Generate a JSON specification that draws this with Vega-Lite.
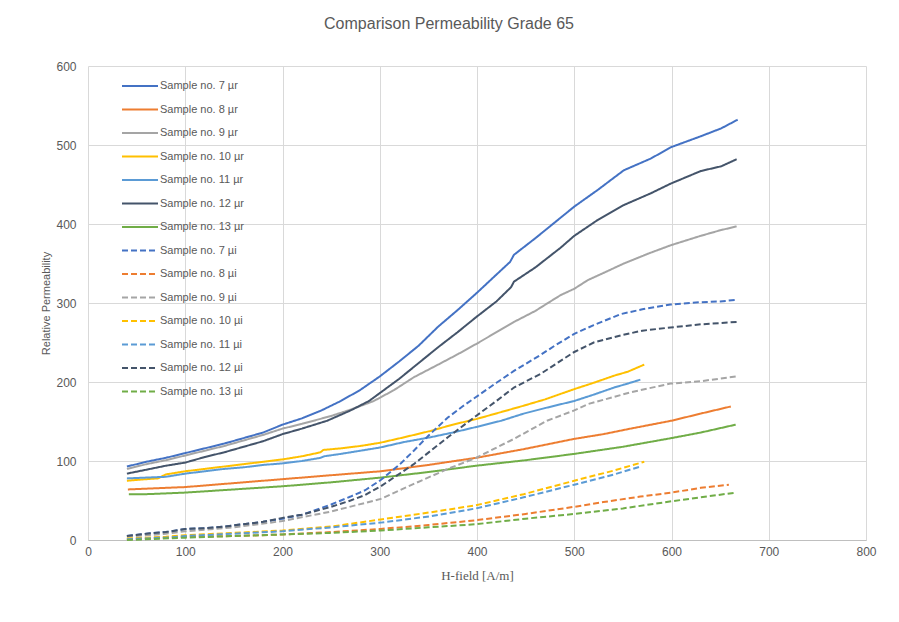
{
  "$schema": "https://vega.github.io/schema/vega-lite/v6.json",
  "width": 778,
  "height": 474,
  "autosize": {"type": "none"},
  "padding": {"left": 88, "top": 66, "right": 33, "bottom": 82},
  "background": "white",
  "title": {
    "text": "Comparison Permeability Grade 65",
    "font": "Liberation Sans",
    "fontSize": 16,
    "fontWeight": "normal",
    "color": "#595959",
    "anchor": "middle",
    "dx": -28,
    "offset": 28
  },
  "data": {
    "values": [
      {"series": "Sample no. 7 µr", "H": 40, "mu": 93}, {"series": "Sample no. 7 µr", "H": 60, "mu": 99}, {"series": "Sample no. 7 µr", "H": 80, "mu": 104}, {"series": "Sample no. 7 µr", "H": 100, "mu": 110}, {"series": "Sample no. 7 µr", "H": 120, "mu": 116}, {"series": "Sample no. 7 µr", "H": 140, "mu": 122}, {"series": "Sample no. 7 µr", "H": 160, "mu": 129}, {"series": "Sample no. 7 µr", "H": 180, "mu": 136}, {"series": "Sample no. 7 µr", "H": 200, "mu": 146}, {"series": "Sample no. 7 µr", "H": 220, "mu": 154}, {"series": "Sample no. 7 µr", "H": 240, "mu": 164}, {"series": "Sample no. 7 µr", "H": 260, "mu": 176}, {"series": "Sample no. 7 µr", "H": 280, "mu": 190}, {"series": "Sample no. 7 µr", "H": 300, "mu": 207}, {"series": "Sample no. 7 µr", "H": 320, "mu": 226}, {"series": "Sample no. 7 µr", "H": 340, "mu": 246}, {"series": "Sample no. 7 µr", "H": 360, "mu": 270}, {"series": "Sample no. 7 µr", "H": 380, "mu": 291}, {"series": "Sample no. 7 µr", "H": 400, "mu": 313}, {"series": "Sample no. 7 µr", "H": 420, "mu": 336}, {"series": "Sample no. 7 µr", "H": 434, "mu": 352}, {"series": "Sample no. 7 µr", "H": 438, "mu": 361}, {"series": "Sample no. 7 µr", "H": 460, "mu": 382}, {"series": "Sample no. 7 µr", "H": 480, "mu": 402}, {"series": "Sample no. 7 µr", "H": 500, "mu": 422}, {"series": "Sample no. 7 µr", "H": 524, "mu": 443}, {"series": "Sample no. 7 µr", "H": 551, "mu": 468}, {"series": "Sample no. 7 µr", "H": 579, "mu": 483}, {"series": "Sample no. 7 µr", "H": 599, "mu": 497}, {"series": "Sample no. 7 µr", "H": 630, "mu": 511}, {"series": "Sample no. 7 µr", "H": 651, "mu": 521}, {"series": "Sample no. 7 µr", "H": 668, "mu": 532},
      {"series": "Sample no. 8 µr", "H": 41, "mu": 64}, {"series": "Sample no. 8 µr", "H": 60, "mu": 65}, {"series": "Sample no. 8 µr", "H": 80, "mu": 66}, {"series": "Sample no. 8 µr", "H": 100, "mu": 67}, {"series": "Sample no. 8 µr", "H": 150, "mu": 72}, {"series": "Sample no. 8 µr", "H": 200, "mu": 77}, {"series": "Sample no. 8 µr", "H": 250, "mu": 82}, {"series": "Sample no. 8 µr", "H": 301, "mu": 87}, {"series": "Sample no. 8 µr", "H": 350, "mu": 95}, {"series": "Sample no. 8 µr", "H": 399, "mu": 104}, {"series": "Sample no. 8 µr", "H": 448, "mu": 115}, {"series": "Sample no. 8 µr", "H": 500, "mu": 128}, {"series": "Sample no. 8 µr", "H": 530, "mu": 134}, {"series": "Sample no. 8 µr", "H": 558, "mu": 141}, {"series": "Sample no. 8 µr", "H": 600, "mu": 151}, {"series": "Sample no. 8 µr", "H": 630, "mu": 160}, {"series": "Sample no. 8 µr", "H": 661, "mu": 169},
      {"series": "Sample no. 9 µr", "H": 40, "mu": 90}, {"series": "Sample no. 9 µr", "H": 60, "mu": 96}, {"series": "Sample no. 9 µr", "H": 80, "mu": 101}, {"series": "Sample no. 9 µr", "H": 100, "mu": 107}, {"series": "Sample no. 9 µr", "H": 120, "mu": 113}, {"series": "Sample no. 9 µr", "H": 140, "mu": 119}, {"series": "Sample no. 9 µr", "H": 160, "mu": 126}, {"series": "Sample no. 9 µr", "H": 180, "mu": 133}, {"series": "Sample no. 9 µr", "H": 200, "mu": 141}, {"series": "Sample no. 9 µr", "H": 220, "mu": 147}, {"series": "Sample no. 9 µr", "H": 250, "mu": 157}, {"series": "Sample no. 9 µr", "H": 270, "mu": 165}, {"series": "Sample no. 9 µr", "H": 294, "mu": 176}, {"series": "Sample no. 9 µr", "H": 315, "mu": 190}, {"series": "Sample no. 9 µr", "H": 335, "mu": 206}, {"series": "Sample no. 9 µr", "H": 360, "mu": 222}, {"series": "Sample no. 9 µr", "H": 380, "mu": 235}, {"series": "Sample no. 9 µr", "H": 399, "mu": 248}, {"series": "Sample no. 9 µr", "H": 420, "mu": 263}, {"series": "Sample no. 9 µr", "H": 438, "mu": 276}, {"series": "Sample no. 9 µr", "H": 460, "mu": 290}, {"series": "Sample no. 9 µr", "H": 486, "mu": 310}, {"series": "Sample no. 9 µr", "H": 500, "mu": 318}, {"series": "Sample no. 9 µr", "H": 514, "mu": 329}, {"series": "Sample no. 9 µr", "H": 530, "mu": 338}, {"series": "Sample no. 9 µr", "H": 551, "mu": 350}, {"series": "Sample no. 9 µr", "H": 575, "mu": 362}, {"series": "Sample no. 9 µr", "H": 599, "mu": 373}, {"series": "Sample no. 9 µr", "H": 630, "mu": 385}, {"series": "Sample no. 9 µr", "H": 650, "mu": 392}, {"series": "Sample no. 9 µr", "H": 667, "mu": 397},
      {"series": "Sample no. 10 µr", "H": 40, "mu": 75}, {"series": "Sample no. 10 µr", "H": 60, "mu": 77}, {"series": "Sample no. 10 µr", "H": 72, "mu": 78}, {"series": "Sample no. 10 µr", "H": 80, "mu": 83}, {"series": "Sample no. 10 µr", "H": 100, "mu": 87}, {"series": "Sample no. 10 µr", "H": 120, "mu": 90}, {"series": "Sample no. 10 µr", "H": 140, "mu": 93}, {"series": "Sample no. 10 µr", "H": 160, "mu": 96}, {"series": "Sample no. 10 µr", "H": 180, "mu": 99}, {"series": "Sample no. 10 µr", "H": 200, "mu": 102}, {"series": "Sample no. 10 µr", "H": 220, "mu": 106}, {"series": "Sample no. 10 µr", "H": 239, "mu": 111}, {"series": "Sample no. 10 µr", "H": 242, "mu": 114}, {"series": "Sample no. 10 µr", "H": 260, "mu": 116}, {"series": "Sample no. 10 µr", "H": 280, "mu": 119}, {"series": "Sample no. 10 µr", "H": 300, "mu": 123}, {"series": "Sample no. 10 µr", "H": 325, "mu": 130}, {"series": "Sample no. 10 µr", "H": 352, "mu": 138}, {"series": "Sample no. 10 µr", "H": 375, "mu": 146}, {"series": "Sample no. 10 µr", "H": 399, "mu": 153}, {"series": "Sample no. 10 µr", "H": 425, "mu": 162}, {"series": "Sample no. 10 µr", "H": 448, "mu": 170}, {"series": "Sample no. 10 µr", "H": 470, "mu": 178}, {"series": "Sample no. 10 µr", "H": 500, "mu": 191}, {"series": "Sample no. 10 µr", "H": 520, "mu": 199}, {"series": "Sample no. 10 µr", "H": 541, "mu": 208}, {"series": "Sample no. 10 µr", "H": 555, "mu": 213}, {"series": "Sample no. 10 µr", "H": 572, "mu": 222},
      {"series": "Sample no. 11 µr", "H": 40, "mu": 78}, {"series": "Sample no. 11 µr", "H": 60, "mu": 79}, {"series": "Sample no. 11 µr", "H": 80, "mu": 80}, {"series": "Sample no. 11 µr", "H": 100, "mu": 84}, {"series": "Sample no. 11 µr", "H": 120, "mu": 87}, {"series": "Sample no. 11 µr", "H": 140, "mu": 90}, {"series": "Sample no. 11 µr", "H": 160, "mu": 92}, {"series": "Sample no. 11 µr", "H": 180, "mu": 95}, {"series": "Sample no. 11 µr", "H": 200, "mu": 97}, {"series": "Sample no. 11 µr", "H": 220, "mu": 100}, {"series": "Sample no. 11 µr", "H": 239, "mu": 104}, {"series": "Sample no. 11 µr", "H": 243, "mu": 106}, {"series": "Sample no. 11 µr", "H": 260, "mu": 109}, {"series": "Sample no. 11 µr", "H": 280, "mu": 113}, {"series": "Sample no. 11 µr", "H": 300, "mu": 117}, {"series": "Sample no. 11 µr", "H": 325, "mu": 124}, {"series": "Sample no. 11 µr", "H": 352, "mu": 130}, {"series": "Sample no. 11 µr", "H": 375, "mu": 136}, {"series": "Sample no. 11 µr", "H": 399, "mu": 143}, {"series": "Sample no. 11 µr", "H": 425, "mu": 151}, {"series": "Sample no. 11 µr", "H": 448, "mu": 160}, {"series": "Sample no. 11 µr", "H": 470, "mu": 167}, {"series": "Sample no. 11 µr", "H": 500, "mu": 176}, {"series": "Sample no. 11 µr", "H": 520, "mu": 184}, {"series": "Sample no. 11 µr", "H": 541, "mu": 193}, {"series": "Sample no. 11 µr", "H": 555, "mu": 198}, {"series": "Sample no. 11 µr", "H": 568, "mu": 203},
      {"series": "Sample no. 12 µr", "H": 40, "mu": 84}, {"series": "Sample no. 12 µr", "H": 60, "mu": 89}, {"series": "Sample no. 12 µr", "H": 80, "mu": 94}, {"series": "Sample no. 12 µr", "H": 100, "mu": 98}, {"series": "Sample no. 12 µr", "H": 120, "mu": 105}, {"series": "Sample no. 12 µr", "H": 140, "mu": 111}, {"series": "Sample no. 12 µr", "H": 160, "mu": 118}, {"series": "Sample no. 12 µr", "H": 180, "mu": 125}, {"series": "Sample no. 12 µr", "H": 200, "mu": 134}, {"series": "Sample no. 12 µr", "H": 220, "mu": 141}, {"series": "Sample no. 12 µr", "H": 246, "mu": 151}, {"series": "Sample no. 12 µr", "H": 270, "mu": 164}, {"series": "Sample no. 12 µr", "H": 289, "mu": 176}, {"series": "Sample no. 12 µr", "H": 299, "mu": 185}, {"series": "Sample no. 12 µr", "H": 320, "mu": 204}, {"series": "Sample no. 12 µr", "H": 335, "mu": 219}, {"series": "Sample no. 12 µr", "H": 360, "mu": 244}, {"series": "Sample no. 12 µr", "H": 380, "mu": 263}, {"series": "Sample no. 12 µr", "H": 399, "mu": 282}, {"series": "Sample no. 12 µr", "H": 420, "mu": 302}, {"series": "Sample no. 12 µr", "H": 435, "mu": 320}, {"series": "Sample no. 12 µr", "H": 438, "mu": 327}, {"series": "Sample no. 12 µr", "H": 460, "mu": 345}, {"series": "Sample no. 12 µr", "H": 486, "mu": 370}, {"series": "Sample no. 12 µr", "H": 500, "mu": 385}, {"series": "Sample no. 12 µr", "H": 524, "mu": 405}, {"series": "Sample no. 12 µr", "H": 551, "mu": 424}, {"series": "Sample no. 12 µr", "H": 579, "mu": 439}, {"series": "Sample no. 12 µr", "H": 599, "mu": 451}, {"series": "Sample no. 12 µr", "H": 630, "mu": 467}, {"series": "Sample no. 12 µr", "H": 651, "mu": 473}, {"series": "Sample no. 12 µr", "H": 667, "mu": 482},
      {"series": "Sample no. 13 µr", "H": 42, "mu": 58}, {"series": "Sample no. 13 µr", "H": 60, "mu": 58}, {"series": "Sample no. 13 µr", "H": 100, "mu": 60}, {"series": "Sample no. 13 µr", "H": 150, "mu": 64}, {"series": "Sample no. 13 µr", "H": 200, "mu": 68}, {"series": "Sample no. 13 µr", "H": 250, "mu": 73}, {"series": "Sample no. 13 µr", "H": 301, "mu": 79}, {"series": "Sample no. 13 µr", "H": 350, "mu": 86}, {"series": "Sample no. 13 µr", "H": 399, "mu": 94}, {"series": "Sample no. 13 µr", "H": 450, "mu": 101}, {"series": "Sample no. 13 µr", "H": 500, "mu": 109}, {"series": "Sample no. 13 µr", "H": 550, "mu": 118}, {"series": "Sample no. 13 µr", "H": 600, "mu": 129}, {"series": "Sample no. 13 µr", "H": 630, "mu": 136}, {"series": "Sample no. 13 µr", "H": 666, "mu": 146},
      {"series": "Sample no. 7 µi", "H": 40, "mu": 5}, {"series": "Sample no. 7 µi", "H": 60, "mu": 8}, {"series": "Sample no. 7 µi", "H": 80, "mu": 10}, {"series": "Sample no. 7 µi", "H": 100, "mu": 14}, {"series": "Sample no. 7 µi", "H": 120, "mu": 15}, {"series": "Sample no. 7 µi", "H": 140, "mu": 17}, {"series": "Sample no. 7 µi", "H": 160, "mu": 20}, {"series": "Sample no. 7 µi", "H": 180, "mu": 23}, {"series": "Sample no. 7 µi", "H": 200, "mu": 27}, {"series": "Sample no. 7 µi", "H": 220, "mu": 32}, {"series": "Sample no. 7 µi", "H": 250, "mu": 45}, {"series": "Sample no. 7 µi", "H": 270, "mu": 55}, {"series": "Sample no. 7 µi", "H": 285, "mu": 63}, {"series": "Sample no. 7 µi", "H": 301, "mu": 76}, {"series": "Sample no. 7 µi", "H": 320, "mu": 95}, {"series": "Sample no. 7 µi", "H": 335, "mu": 113}, {"series": "Sample no. 7 µi", "H": 350, "mu": 132}, {"series": "Sample no. 7 µi", "H": 370, "mu": 155}, {"series": "Sample no. 7 µi", "H": 385, "mu": 169}, {"series": "Sample no. 7 µi", "H": 399, "mu": 181}, {"series": "Sample no. 7 µi", "H": 420, "mu": 199}, {"series": "Sample no. 7 µi", "H": 438, "mu": 214}, {"series": "Sample no. 7 µi", "H": 465, "mu": 234}, {"series": "Sample no. 7 µi", "H": 480, "mu": 246}, {"series": "Sample no. 7 µi", "H": 500, "mu": 261}, {"series": "Sample no. 7 µi", "H": 520, "mu": 272}, {"series": "Sample no. 7 µi", "H": 548, "mu": 286}, {"series": "Sample no. 7 µi", "H": 570, "mu": 292}, {"series": "Sample no. 7 µi", "H": 599, "mu": 298}, {"series": "Sample no. 7 µi", "H": 630, "mu": 301}, {"series": "Sample no. 7 µi", "H": 650, "mu": 302}, {"series": "Sample no. 7 µi", "H": 667, "mu": 304},
      {"series": "Sample no. 8 µi", "H": 40, "mu": 1}, {"series": "Sample no. 8 µi", "H": 100, "mu": 4}, {"series": "Sample no. 8 µi", "H": 150, "mu": 5}, {"series": "Sample no. 8 µi", "H": 200, "mu": 7}, {"series": "Sample no. 8 µi", "H": 250, "mu": 10}, {"series": "Sample no. 8 µi", "H": 301, "mu": 14}, {"series": "Sample no. 8 µi", "H": 350, "mu": 19}, {"series": "Sample no. 8 µi", "H": 399, "mu": 25}, {"series": "Sample no. 8 µi", "H": 450, "mu": 33}, {"series": "Sample no. 8 µi", "H": 500, "mu": 42}, {"series": "Sample no. 8 µi", "H": 530, "mu": 48}, {"series": "Sample no. 8 µi", "H": 568, "mu": 55}, {"series": "Sample no. 8 µi", "H": 600, "mu": 60}, {"series": "Sample no. 8 µi", "H": 630, "mu": 66}, {"series": "Sample no. 8 µi", "H": 659, "mu": 70},
      {"series": "Sample no. 9 µi", "H": 40, "mu": 4}, {"series": "Sample no. 9 µi", "H": 60, "mu": 6}, {"series": "Sample no. 9 µi", "H": 80, "mu": 8}, {"series": "Sample no. 9 µi", "H": 100, "mu": 11}, {"series": "Sample no. 9 µi", "H": 150, "mu": 16}, {"series": "Sample no. 9 µi", "H": 200, "mu": 24}, {"series": "Sample no. 9 µi", "H": 250, "mu": 36}, {"series": "Sample no. 9 µi", "H": 301, "mu": 52}, {"series": "Sample no. 9 µi", "H": 335, "mu": 71}, {"series": "Sample no. 9 µi", "H": 370, "mu": 90}, {"series": "Sample no. 9 µi", "H": 399, "mu": 104}, {"series": "Sample no. 9 µi", "H": 438, "mu": 128}, {"series": "Sample no. 9 µi", "H": 472, "mu": 151}, {"series": "Sample no. 9 µi", "H": 500, "mu": 164}, {"series": "Sample no. 9 µi", "H": 514, "mu": 172}, {"series": "Sample no. 9 µi", "H": 558, "mu": 187}, {"series": "Sample no. 9 µi", "H": 599, "mu": 198}, {"series": "Sample no. 9 µi", "H": 630, "mu": 201}, {"series": "Sample no. 9 µi", "H": 666, "mu": 207},
      {"series": "Sample no. 10 µi", "H": 40, "mu": 2}, {"series": "Sample no. 10 µi", "H": 60, "mu": 3}, {"series": "Sample no. 10 µi", "H": 80, "mu": 4}, {"series": "Sample no. 10 µi", "H": 100, "mu": 6}, {"series": "Sample no. 10 µi", "H": 150, "mu": 9}, {"series": "Sample no. 10 µi", "H": 200, "mu": 12}, {"series": "Sample no. 10 µi", "H": 250, "mu": 17}, {"series": "Sample no. 10 µi", "H": 301, "mu": 26}, {"series": "Sample no. 10 µi", "H": 352, "mu": 35}, {"series": "Sample no. 10 µi", "H": 399, "mu": 44}, {"series": "Sample no. 10 µi", "H": 448, "mu": 58}, {"series": "Sample no. 10 µi", "H": 500, "mu": 75}, {"series": "Sample no. 10 µi", "H": 541, "mu": 88}, {"series": "Sample no. 10 µi", "H": 572, "mu": 99},
      {"series": "Sample no. 11 µi", "H": 40, "mu": 1}, {"series": "Sample no. 11 µi", "H": 60, "mu": 2}, {"series": "Sample no. 11 µi", "H": 80, "mu": 3}, {"series": "Sample no. 11 µi", "H": 100, "mu": 5}, {"series": "Sample no. 11 µi", "H": 150, "mu": 8}, {"series": "Sample no. 11 µi", "H": 200, "mu": 11}, {"series": "Sample no. 11 µi", "H": 250, "mu": 16}, {"series": "Sample no. 11 µi", "H": 301, "mu": 22}, {"series": "Sample no. 11 µi", "H": 352, "mu": 30}, {"series": "Sample no. 11 µi", "H": 399, "mu": 40}, {"series": "Sample no. 11 µi", "H": 448, "mu": 54}, {"series": "Sample no. 11 µi", "H": 500, "mu": 70}, {"series": "Sample no. 11 µi", "H": 541, "mu": 83}, {"series": "Sample no. 11 µi", "H": 568, "mu": 93},
      {"series": "Sample no. 12 µi", "H": 40, "mu": 5}, {"series": "Sample no. 12 µi", "H": 60, "mu": 8}, {"series": "Sample no. 12 µi", "H": 80, "mu": 10}, {"series": "Sample no. 12 µi", "H": 100, "mu": 14}, {"series": "Sample no. 12 µi", "H": 120, "mu": 15}, {"series": "Sample no. 12 µi", "H": 140, "mu": 17}, {"series": "Sample no. 12 µi", "H": 160, "mu": 20}, {"series": "Sample no. 12 µi", "H": 180, "mu": 23}, {"series": "Sample no. 12 µi", "H": 200, "mu": 28}, {"series": "Sample no. 12 µi", "H": 220, "mu": 32}, {"series": "Sample no. 12 µi", "H": 250, "mu": 42}, {"series": "Sample no. 12 µi", "H": 270, "mu": 50}, {"series": "Sample no. 12 µi", "H": 285, "mu": 57}, {"series": "Sample no. 12 µi", "H": 301, "mu": 68}, {"series": "Sample no. 12 µi", "H": 335, "mu": 96}, {"series": "Sample no. 12 µi", "H": 370, "mu": 130}, {"series": "Sample no. 12 µi", "H": 399, "mu": 157}, {"series": "Sample no. 12 µi", "H": 420, "mu": 176}, {"series": "Sample no. 12 µi", "H": 438, "mu": 193}, {"series": "Sample no. 12 µi", "H": 465, "mu": 210}, {"series": "Sample no. 12 µi", "H": 500, "mu": 238}, {"series": "Sample no. 12 µi", "H": 520, "mu": 250}, {"series": "Sample no. 12 µi", "H": 548, "mu": 259}, {"series": "Sample no. 12 µi", "H": 570, "mu": 265}, {"series": "Sample no. 12 µi", "H": 599, "mu": 269}, {"series": "Sample no. 12 µi", "H": 630, "mu": 273}, {"series": "Sample no. 12 µi", "H": 667, "mu": 276},
      {"series": "Sample no. 13 µi", "H": 40, "mu": 0}, {"series": "Sample no. 13 µi", "H": 100, "mu": 3}, {"series": "Sample no. 13 µi", "H": 150, "mu": 5}, {"series": "Sample no. 13 µi", "H": 200, "mu": 7}, {"series": "Sample no. 13 µi", "H": 250, "mu": 9}, {"series": "Sample no. 13 µi", "H": 301, "mu": 12}, {"series": "Sample no. 13 µi", "H": 350, "mu": 16}, {"series": "Sample no. 13 µi", "H": 399, "mu": 20}, {"series": "Sample no. 13 µi", "H": 450, "mu": 27}, {"series": "Sample no. 13 µi", "H": 500, "mu": 33}, {"series": "Sample no. 13 µi", "H": 550, "mu": 40}, {"series": "Sample no. 13 µi", "H": 600, "mu": 49}, {"series": "Sample no. 13 µi", "H": 630, "mu": 54}, {"series": "Sample no. 13 µi", "H": 666, "mu": 60}
    ]
  },
  "mark": {"type": "line", "strokeWidth": 2},
  "encoding": {
    "x": {
      "field": "H",
      "type": "quantitative",
      "title": "H-field [A/m]",
      "scale": {"domain": [0, 800], "nice": false},
      "axis": {"values": [0, 100, 200, 300, 400, 500, 600, 700, 800], "labelFlush": false, "titleFont": "Liberation Serif", "titleFontSize": 13, "titleFontWeight": "normal", "titlePadding": 12, "labelPadding": 6, "domain": true, "domainColor": "#bfbfbf", "domainWidth": 1}
    },
    "y": {
      "field": "mu",
      "type": "quantitative",
      "title": "Relative Permeability",
      "scale": {"domain": [0, 600], "nice": false},
      "axis": {"values": [0, 100, 200, 300, 400, 500, 600], "labelFlush": false, "titleFont": "Liberation Sans", "titleFontSize": 11, "titleFontWeight": "normal", "titlePadding": 4, "labelPadding": 12, "domain": false}
    },
    "color": {
      "field": "series",
      "type": "nominal",
      "scale": {
        "domain": ["Sample no. 7 µr", "Sample no. 8 µr", "Sample no. 9 µr", "Sample no. 10 µr", "Sample no. 11 µr", "Sample no. 12 µr", "Sample no. 13 µr", "Sample no. 7 µi", "Sample no. 8 µi", "Sample no. 9 µi", "Sample no. 10 µi", "Sample no. 11 µi", "Sample no. 12 µi", "Sample no. 13 µi"],
        "range": ["#4472c4", "#ed7d31", "#a5a5a5", "#ffc000", "#5b9bd5", "#44546a", "#70ad47", "#4472c4", "#ed7d31", "#a5a5a5", "#ffc000", "#5b9bd5", "#44546a", "#70ad47"]
      },
      "legend": {"title": null}
    },
    "strokeDash": {
      "field": "series",
      "type": "nominal",
      "scale": {
        "domain": ["Sample no. 7 µr", "Sample no. 8 µr", "Sample no. 9 µr", "Sample no. 10 µr", "Sample no. 11 µr", "Sample no. 12 µr", "Sample no. 13 µr", "Sample no. 7 µi", "Sample no. 8 µi", "Sample no. 9 µi", "Sample no. 10 µi", "Sample no. 11 µi", "Sample no. 12 µi", "Sample no. 13 µi"],
        "range": [[1, 0], [1, 0], [1, 0], [1, 0], [1, 0], [1, 0], [1, 0], [6, 3], [6, 3], [6, 3], [6, 3], [6, 3], [6, 3], [6, 3]]
      },
      "legend": {"title": null}
    }
  },
  "config": {
    "view": {"stroke": null},
    "axis": {
      "grid": true,
      "gridColor": "#d9d9d9",
      "ticks": false,
      "labelFont": "Liberation Sans",
      "labelFontSize": 12,
      "labelColor": "#595959",
      "titleColor": "#595959"
    },
    "legend": {
      "orient": "none",
      "legendX": 33,
      "legendY": 13,
      "padding": 0,
      "clipHeight": 14,
      "rowPadding": 9.5,
      "symbolType": "stroke",
      "symbolSize": 1296,
      "symbolStrokeWidth": 2,
      "labelOffset": 1,
      "labelFont": "Liberation Sans",
      "labelFontSize": 11,
      "labelColor": "#595959",
      "labelLimit": 200
    }
  }
}
